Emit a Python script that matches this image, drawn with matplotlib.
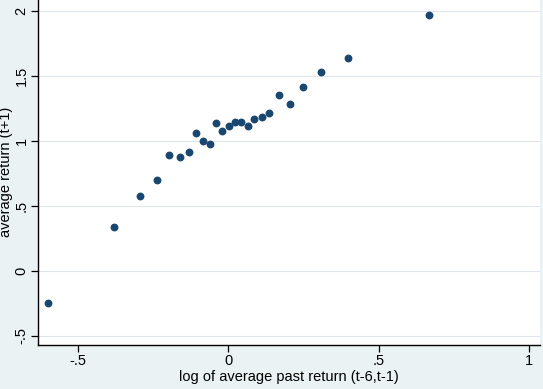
import matplotlib
matplotlib.use("Agg")
import matplotlib.pyplot as plt
import numpy as np

# binned scatter: log of average past return vs average next-period return
past_return = [-0.600, -0.380, -0.294, -0.238, -0.196, -0.161, -0.132, -0.106, -0.083,
               -0.061, -0.040, -0.020, 0.001, 0.021, 0.042, 0.064, 0.086, 0.112,
               0.136, 0.167, 0.204, 0.247, 0.307, 0.399, 0.666]
next_return = [-0.245, 0.335, 0.577, 0.696, 0.887, 0.877, 0.913, 1.058, 0.997,
               0.976, 1.135, 1.079, 1.110, 1.143, 1.143, 1.112, 1.168, 1.181,
               1.214, 1.350, 1.283, 1.416, 1.531, 1.639, 1.963]

x_ticks = [-0.5, 0, 0.5, 1]
x_tick_labels = ["-.5", "0", ".5", "1"]
y_ticks = [-0.5, 0, 0.5, 1, 1.5, 2]
y_tick_labels = ["-.5", "0", ".5", "1", "1.5", "2"]

plt.rcParams["font.family"] = ["Liberation Sans", "DejaVu Sans"]

bg = "#eaf2f3"
fig = plt.figure(figsize=(5.43, 3.89), dpi=100, facecolor=bg)
ax = fig.add_axes([38.3 / 543, 1 - 344.7 / 389, (540 - 38.3) / 543, 344.7 / 389])
ax.set_facecolor("white")

ax.scatter(past_return, next_return, s=32, color="#1a476f", linewidths=0, zorder=3)

ax.set_xlim(-0.631, 1.0355)
ax.set_ylim(-0.567, 2.082)

ax.set_xticks(x_ticks)
ax.set_xticklabels(x_tick_labels)
ax.set_yticks(y_ticks)
ax.set_yticklabels(y_tick_labels, rotation=90, va="center")

ax.grid(axis="y", color="#dfe6ee", linewidth=0.8, zorder=0)
ax.grid(axis="x", visible=False)

for side in ["top", "right"]:
    ax.spines[side].set_visible(False)
for side in ["left", "bottom"]:
    ax.spines[side].set_linewidth(1.0)
    ax.spines[side].set_color("black")

ax.tick_params(direction="out", length=5, width=0.9, labelsize=10.5, colors="black")
ax.tick_params(axis="x", pad=1.5)
ax.tick_params(axis="y", pad=2)

ax.set_xlabel("log of average past return (t-6,t-1)", fontsize=10.5)
ax.set_ylabel("average return (t+1)", fontsize=10.5)
ax.xaxis.set_label_coords(0.5, -0.072)
ax.yaxis.set_label_coords(-0.05, 0.5)

fig.savefig("out.png", dpi=100, facecolor=bg)
